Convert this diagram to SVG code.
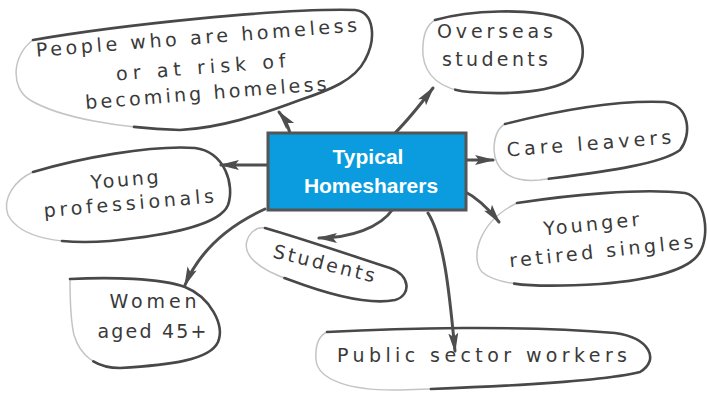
<svg xmlns="http://www.w3.org/2000/svg" width="707" height="396" viewBox="0 0 707 396">
<defs>
<style>
.blob{fill:#fff;stroke:#c4c4c4;stroke-width:1.5}
.ink{fill:none;stroke:#484848;stroke-width:2.6;stroke-linecap:round;stroke-dasharray:78 22}
.t{font-family:"DejaVu Sans","Liberation Sans",sans-serif;font-size:19px;fill:#3a3a3a;text-anchor:middle}
.hub{font-family:"Liberation Sans","DejaVu Sans",sans-serif;font-size:21px;font-weight:bold;fill:#fff;text-anchor:middle}
.con{fill:none;stroke:#4e4e4e;stroke-width:3;stroke-linecap:round}
</style>
<marker id="ah" viewBox="0 0 20 12" refX="18" refY="6" markerWidth="20" markerHeight="12" markerUnits="userSpaceOnUse" orient="auto">
<path d="M0,1 L20,6 L0,11 L4,6 Z" fill="#4e4e4e"/>
</marker>
</defs>
<rect width="707" height="396" fill="#fff"/>

<g id="n-people">
<path class="blob" d="M 33,40 C 120,25 280,8 355,10 C 375,12 376,40 365,60 C 355,80 330,90 300,100 C 260,115 220,128 180,130 C 120,128 60,118 30,100 C 10,88 12,55 33,40 Z"/>
<path class="ink" pathLength="100" d="M 33,40 C 120,25 280,8 355,10 C 375,12 376,40 365,60 C 355,80 330,90 300,100 C 260,115 220,128 180,130 C 120,128 60,118 30,100 C 10,88 12,55 33,40 Z"/>
<g transform="rotate(-4.5 200 70)">
<text class="t" x="199" y="44" textLength="322" lengthAdjust="spacing">People who are homeless</text>
<text class="t" x="201" y="74" textLength="170" lengthAdjust="spacing">or at risk of</text>
<text class="t" x="204" y="100" textLength="242" lengthAdjust="spacing">becoming homeless</text>
</g>
</g>

<g id="n-overseas">
<path class="blob" d="M 435,20 C 470,10 530,8 560,18 C 585,28 590,60 572,78 C 555,92 510,95 470,92 C 440,90 425,75 423,55 C 422,38 425,26 435,20 Z"/>
<path class="ink" pathLength="100" d="M 435,20 C 470,10 530,8 560,18 C 585,28 590,60 572,78 C 555,92 510,95 470,92 C 440,90 425,75 423,55 C 422,38 425,26 435,20 Z"/>
<text class="t" x="495" y="38" textLength="116" lengthAdjust="spacing">Overseas</text>
<text class="t" x="495" y="66" textLength="106" lengthAdjust="spacing">students</text>
</g>

<g id="n-care">
<path class="blob" d="M 505,124 C 560,110 620,100 665,102 C 690,105 692,135 680,150 C 660,165 600,172 540,180 C 510,183 495,170 494,150 C 494,135 498,128 505,124 Z"/>
<path class="ink" pathLength="100" d="M 505,124 C 560,110 620,100 665,102 C 690,105 692,135 680,150 C 660,165 600,172 540,180 C 510,183 495,170 494,150 C 494,135 498,128 505,124 Z"/>
<text class="t" x="589" y="150" textLength="165" lengthAdjust="spacing" transform="rotate(-4.5 589 145)">Care leavers</text>
</g>

<g id="n-retired">
<path class="blob" d="M 517,203 C 570,195 640,188 685,193 C 706,198 710,235 700,252 C 690,270 650,280 600,284 C 550,287 500,288 482,272 C 470,258 478,222 517,203 Z"/>
<path class="ink" pathLength="100" d="M 517,203 C 570,195 640,188 685,193 C 706,198 710,235 700,252 C 690,270 650,280 600,284 C 550,287 500,288 482,272 C 470,258 478,222 517,203 Z"/>
<g transform="rotate(-6 598 240)">
<text class="t" x="593" y="230" textLength="96" lengthAdjust="spacing">Younger</text>
<text class="t" x="600" y="258" textLength="185" lengthAdjust="spacing">retired singles</text>
</g>
</g>

<g id="n-young">
<path class="blob" d="M 33,172 C 80,158 150,145 195,148 C 225,152 235,185 228,205 C 220,225 170,235 110,241 C 60,245 20,238 8,215 C 2,198 15,180 33,172 Z"/>
<path class="ink" pathLength="100" d="M 33,172 C 80,158 150,145 195,148 C 225,152 235,185 228,205 C 220,225 170,235 110,241 C 60,245 20,238 8,215 C 2,198 15,180 33,172 Z"/>
<g transform="rotate(-5 127 195)">
<text class="t" x="126" y="186" textLength="68" lengthAdjust="spacing">Young</text>
<text class="t" x="128" y="210" textLength="171" lengthAdjust="spacing">professionals</text>
</g>
</g>

<g id="n-students">
<path class="blob" d="M 265,228 C 300,238 350,255 390,268 C 410,275 412,295 395,300 C 370,305 330,295 290,280 C 260,270 240,255 248,238 C 252,230 258,227 265,228 Z"/>
<path class="ink" pathLength="100" d="M 265,228 C 300,238 350,255 390,268 C 410,275 412,295 395,300 C 370,305 330,295 290,280 C 260,270 240,255 248,238 C 252,230 258,227 265,228 Z"/>
<text class="t" x="324" y="270" textLength="104" lengthAdjust="spacing" transform="rotate(14 324 264)">Students</text>
</g>

<g id="n-women">
<path class="blob" d="M 70,279 C 110,277 160,278 185,287 C 210,297 225,325 218,342 C 210,360 170,365 120,368 C 95,368 80,355 74,335 C 70,318 70,295 70,279 Z"/>
<path class="ink" pathLength="100" d="M 70,279 C 110,277 160,278 185,287 C 210,297 225,325 218,342 C 210,360 170,365 120,368 C 95,368 80,355 74,335 C 70,318 70,295 70,279 Z"/>
<text class="t" x="153" y="308" textLength="87" lengthAdjust="spacing">Women</text>
<text class="t" x="152" y="338" textLength="109" lengthAdjust="spacing">aged 45+</text>
</g>

<g id="n-public">
<path class="blob" d="M 327,332 C 400,328 520,325 615,333 C 650,338 660,360 640,372 C 600,382 470,388 400,390 C 350,391 318,380 316,360 C 315,345 318,336 327,332 Z"/>
<path class="ink" pathLength="100" d="M 327,332 C 400,328 520,325 615,333 C 650,338 660,360 640,372 C 600,382 470,388 400,390 C 350,391 318,380 316,360 C 315,345 318,336 327,332 Z"/>
<text class="t" x="482" y="362" textLength="290" lengthAdjust="spacing">Public sector workers</text>
</g>

<g id="connectors">
<path class="con" marker-end="url(#ah)" d="M 290,133 Q 287,122 279,112"/>
<path class="con" marker-end="url(#ah)" d="M 395,133 C 410,118 420,105 433,88"/>
<path class="con" marker-end="url(#ah)" d="M 462,160 L 493,160"/>
<path class="con" marker-end="url(#ah)" d="M 462,190 Q 482,200 499,222"/>
<path class="con" marker-end="url(#ah)" d="M 267,165 L 221,165"/>
<path class="con" marker-end="url(#ah)" d="M 265,209 C 230,225 200,250 185,285"/>
<path class="con" marker-end="url(#ah)" d="M 393,209 C 380,228 350,238 319,238"/>
<path class="con" marker-end="url(#ah)" d="M 428,213 C 445,240 450,300 455,351"/>
</g>

<g id="n-hub">
<rect x="268" y="133" width="198" height="77" fill="#0A9CDE" stroke="#555" stroke-width="3"/>
<text class="hub" x="368" y="164">Typical</text>
<text class="hub" x="371" y="193">Homesharers</text>
</g>
</svg>
